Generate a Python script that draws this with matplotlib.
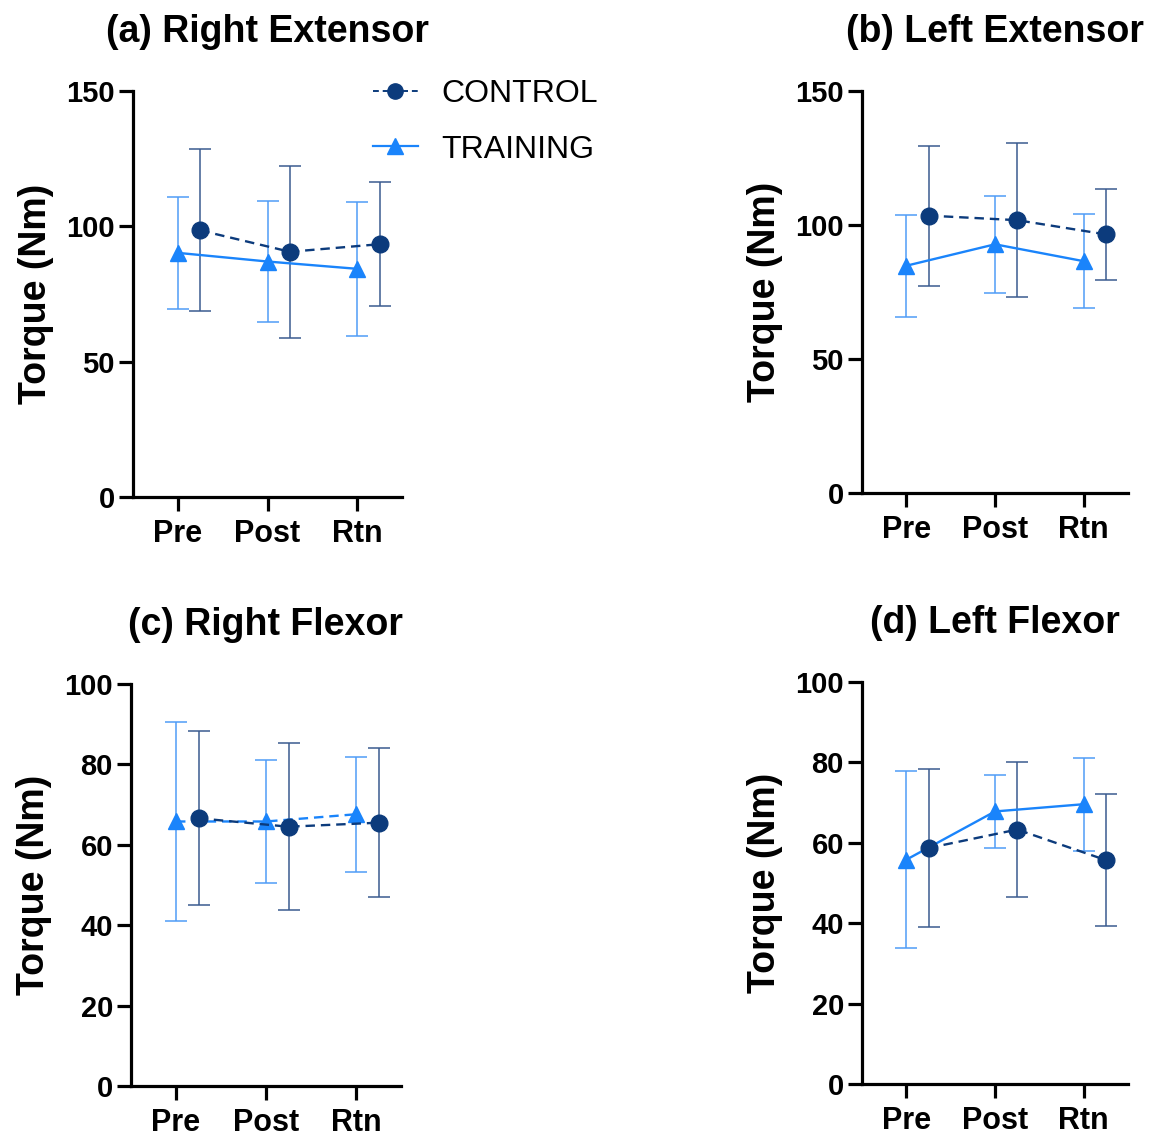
#!/usr/bin/env python3
"""Isokinetic torque (Pre / Post / Rtn) for control vs training groups, 2x2 panels."""

import matplotlib
matplotlib.use("Agg")
import matplotlib.pyplot as plt
from matplotlib.lines import Line2D
import numpy as np

plt.rcParams["font.family"] = ["Liberation Sans", "DejaVu Sans"]

# ---------------------------------------------------------------------------
# Data (mean and SD)
# ---------------------------------------------------------------------------
PHASES = ["Pre", "Post", "Rtn"]

TITLES = ["(a) Right Extensor", "(b) Left Extensor", "(c) Right Flexor", "(d) Left Flexor"]

ctrl_right_ext = [98.5, 90.6, 93.4]
ctrl_right_ext_sd = [29.9, 31.7, 22.8]
train_right_ext = [90.2, 87.0, 84.3]
train_right_ext_sd = [20.8, 22.4, 24.8]

ctrl_left_ext = [103.5, 101.8, 96.5]
ctrl_left_ext_sd = [26.1, 28.8, 17.0]
train_left_ext = [84.8, 92.8, 86.5]
train_left_ext_sd = [19.0, 18.1, 17.6]

ctrl_right_flex = [66.6, 64.5, 65.5]
ctrl_right_flex_sd = [21.6, 20.7, 18.6]
train_right_flex = [65.8, 65.8, 67.6]
train_right_flex_sd = [24.8, 15.3, 14.3]

ctrl_left_flex = [58.7, 63.3, 55.7]
ctrl_left_flex_sd = [19.7, 16.8, 16.4]
train_left_flex = [55.8, 67.8, 69.6]
train_left_flex_sd = [22.0, 9.0, 11.6]

# ---------------------------------------------------------------------------
# Style
# ---------------------------------------------------------------------------
CTRL = "#0c3b7c"
CTRL_ERR = "#3a5b8f"
TRAIN = "#1a84fb"
TRAIN_ERR = "#4f9cf7"
OFFSET = 0.25

# axes boxes in figure pixels: left, top, right, bottom (image is 1152x1139)
W, H = 1152, 1139
BOXES = [
    (133, 91, 402, 497),
    (862, 91, 1128, 493),
    (131, 684, 401, 1086),
    (862, 682, 1128, 1084),
]


def draw_panel(ax, title, ctrl, ctrl_sd, train, train_sd, ymax, ystep, train_dashed=False):
    x = np.arange(len(PHASES))

    ax.errorbar(x, train, yerr=train_sd, fmt="none", ecolor=TRAIN_ERR,
                elinewidth=1.1, capsize=8, capthick=1.1, zorder=2)
    ax.errorbar(x + OFFSET, ctrl, yerr=ctrl_sd, fmt="none", ecolor=CTRL_ERR,
                elinewidth=1.1, capsize=8, capthick=1.1, zorder=2)

    ax.plot(x, train, color=TRAIN, lw=1.7, ls=(0, (4, 2.5)) if train_dashed else "-",
            marker="^", ms=12, mec=TRAIN, mfc=TRAIN, zorder=3)
    ax.plot(x + OFFSET, ctrl, color=CTRL, lw=1.7, ls=(0, (4, 2.5)),
            marker="o", ms=12, mec=CTRL, mfc=CTRL, zorder=4)

    ax.set_xlim(-0.5, 2.5)
    ax.set_ylim(0, ymax)
    ax.set_yticks(np.arange(0, ymax + 1, ystep))
    ax.set_xticks(x)
    ax.set_xticklabels(PHASES)

    for side in ("top", "right"):
        ax.spines[side].set_visible(False)
    for side in ("left", "bottom"):
        ax.spines[side].set_linewidth(2.3)

    ax.tick_params(axis="both", which="major", direction="out", length=10,
                   width=2.3, labelsize=21)
    ax.tick_params(axis="x", pad=6, labelsize=22)
    ax.tick_params(axis="y", pad=3)
    for lab in ax.get_xticklabels() + ax.get_yticklabels():
        lab.set_fontweight("bold")

    ax.set_ylabel("Torque (Nm)", fontsize=27, fontweight="bold", labelpad=9)
    ax.set_title(title, fontsize=27, fontweight="bold", pad=35)


fig = plt.figure(figsize=(W / 100, H / 100), dpi=100)
axes = []
for (l, t, r, b) in BOXES:
    axes.append(fig.add_axes([l / W, 1 - b / H, (r - l) / W, (b - t) / H]))

draw_panel(axes[0], TITLES[0], ctrl_right_ext, ctrl_right_ext_sd,
           train_right_ext, train_right_ext_sd, 150, 50)
draw_panel(axes[1], TITLES[1], ctrl_left_ext, ctrl_left_ext_sd,
           train_left_ext, train_left_ext_sd, 150, 50)
draw_panel(axes[2], TITLES[2], ctrl_right_flex, ctrl_right_flex_sd,
           train_right_flex, train_right_flex_sd, 100, 20, train_dashed=True)
draw_panel(axes[3], TITLES[3], ctrl_left_flex, ctrl_left_flex_sd,
           train_left_flex, train_left_flex_sd, 100, 20)

# --- Legend (sits to the right of panel a) ---
handles = [
    Line2D([], [], color=CTRL, lw=1.4, ls=(0, (3, 2)), marker="o", ms=11),
    Line2D([], [], color=TRAIN, lw=1.6, ls="-", marker="^", ms=12),
]
fig.legend(handles, ["CONTROL", "TRAINING"], loc="upper left",
           bbox_to_anchor=(373 / W, 1 - 79 / H), frameon=False,
           fontsize=23, handlelength=1.4, handletextpad=0.75,
           labelspacing=0.8, borderpad=0, borderaxespad=0)

fig.savefig("out.png", dpi=100, facecolor="white")
plt.close(fig)
